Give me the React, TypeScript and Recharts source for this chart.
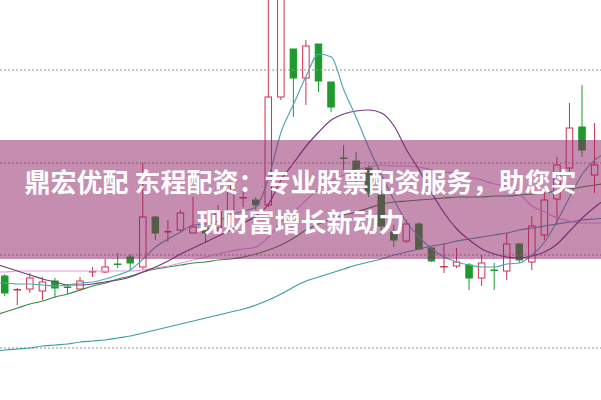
import React from 'react';
import { ComposedChart, Bar, Line, XAxis, YAxis, ReferenceLine } from 'recharts';

// Candles (price units, higher = higher on screen)
const opens = [124,110,111,109,119,113,111,128,128,136,143,133,183,168,170,167,172,172,188,202,200,195,303,351,322,356,318,242,239,232,205,168,159,176,152,133,134,135,122,130,129,156,138,165,201,232,273,225];
const closes = [107,110.5,122,118,112,112.5,119,128.5,133,135.5,137,183,167,168.5,187,173,167,188,210,202.5,195,303,420,322,354,319,293,241.5,230,207,174,160,176,151,139,133.5,138,122,137,129.5,156,140,174,200,235,272,250,235];
const highs = [126,112,127,123,122,116,123,133,141,147,146,237,184,180,190,203,174,195,215,212,203,415,425,351,360,356,318,255,248,235,210,175,180,178,153,157,152,137,145,137,167,157,184,208,243,297,315,277];
const lows = [104,95,107,100,102,106,109,123,127,132,130,130,160,158,167,167,158,168,185,193,190,193,300,283,295,308,288,230,215,203,165,153,157,150,138,127,132,110,114,110,120,137,130,160,175,228,243,207];

// Moving averages, one value per slot from index -1 to 48
const ma5 = [117,117,116,116,115,114,115,117,118,121,125,130,141,153,161,168,175,176,179,185,189,193,222,268,296,324,346,343,310,282,252,225,200,178,163,151,143,138,135,133,133,136,137,145,158,179,203,226,240,248];
const ma10 = [137,133,129,125,121,118,115,115,116,118,120,123,128,133,139,146,152,158,164,170,177,184,196,220,237,254,268,280,286,289,290,287,274,250,230,207,187,171,160,151,146,143,142,144,148,156,169,182,193,202];
const ma20 = [128,128,129,129,129,129,129,129,129,129,129,129,130,132,134,137,140,143,146,149,151,153,163,178,188,200,211,219,225,230,233,235,234,234,233,230,228,227,223,220,216,214,206,194,188,182,179,177,177,177];
const ma30 = [84,88,92,96,99,103,106,110,114,117,121,124,128,131,133,135,137,138,140,141,143,146,150,155,162,170,176,181,185,188,192,196,198,199,200,201,202,203,203,203,204,204,205,206,207,209,211,213,215,217];
const ma60 = [48,50,51,52,54,55,56,58,59,60,62,64,67,70,73,76,79,82,85,88,91,95,100,106,113,119,123,127,131,135,138,141,145,148,151,154,156,159,161,163,165,167,170,172,174,176,178,180,181,182];

const gridLevels = [330, 237, 145, 52];

const titleLine1 = '鼎宏优配 东程配资：专业股票配资服务，助您实';
const titleLine2 = '现财富增长新动力';

const RED = '#d4304c';
const GREEN = '#1e9b2c';

const data = ma5.map((_, k) => {
  const i = k - 1;
  const has = i >= 0 && i < opens.length;
  return {
    i,
    ma5: ma5[k],
    ma10: ma10[k],
    ma20: ma20[k],
    ma30: ma30[k],
    ma60: ma60[k],
    o: has ? opens[i] : null,
    c: has ? closes[i] : null,
    h: has ? highs[i] : null,
    l: has ? lows[i] : null,
    range: has ? [lows[i], highs[i]] : null,
  };
});

const Candle = (props: any) => {
  const { x, y, width, height, payload } = props;
  if (!payload || payload.o == null || height == null || isNaN(y)) return <g />;
  const top = Math.min(y, y + height);
  const bot = Math.max(y, y + height);
  const span = payload.h - payload.l;
  const py = (v: number) => top + ((payload.h - v) / span) * (bot - top);
  const cx = x + width / 2;
  const up = payload.c >= payload.o;
  const color = up ? RED : GREEN;
  const bt = py(Math.max(payload.o, payload.c));
  const bb = py(Math.min(payload.o, payload.c));
  const bw = 6.5;
  return (
    <g>
      <line x1={cx} x2={cx} y1={py(payload.h)} y2={py(payload.l)} stroke={color} strokeWidth={1} />
      <rect
        x={cx - bw / 2}
        y={bt}
        width={bw}
        height={Math.max(bb - bt, 0.5)}
        fill={up ? '#ffffff' : color}
        stroke={color}
        strokeWidth={1}
      />
    </g>
  );
};

const textStyle: React.CSSProperties = {
  position: 'absolute',
  left: 0,
  width: 601,
  textAlign: 'center',
  fontFamily: '"Noto Sans CJK SC", sans-serif',
  fontWeight: 700,
  fontSize: 26,
  lineHeight: '40px',
  color: '#ffffff',
  whiteSpace: 'nowrap',
};

export default function App() {
  return (
    <div style={{ position: 'absolute', left: 0, top: 0, width: 601, height: 400, overflow: 'hidden', background: '#ffffff' }}>
      <div style={{ position: 'absolute', left: 0, top: -30 }}>
        <ComposedChart width={601} height={430} data={data} margin={{ top: 0, right: 0, bottom: 0, left: 0 }}>
          <XAxis type="number" dataKey="i" domain={[-0.3984, 47.49]} allowDataOverflow hide />
          <YAxis type="number" domain={[0, 430]} allowDataOverflow hide />
          {gridLevels.map((g) => (
            <ReferenceLine key={g} y={g} stroke="#8f8f8f" strokeDasharray="2 2" strokeWidth={1} />
          ))}
          <Bar dataKey="range" barSize={8} isAnimationActive={false} shape={(p: any) => <Candle {...p} />} />
          <Line type="monotone" dataKey="ma60" stroke="#3d9ca4" strokeWidth={1.2} dot={false} activeDot={false} isAnimationActive={false} />
          <Line type="monotone" dataKey="ma30" stroke="#3b8a45" strokeWidth={1.2} dot={false} activeDot={false} isAnimationActive={false} />
          <Line type="monotone" dataKey="ma20" stroke="#e39ae3" strokeWidth={1.2} dot={false} activeDot={false} isAnimationActive={false} />
          <Line type="monotone" dataKey="ma10" stroke="#743c80" strokeWidth={1.2} dot={false} activeDot={false} isAnimationActive={false} />
          <Line type="monotone" dataKey="ma5" stroke="#55a7b4" strokeWidth={1.2} dot={false} activeDot={false} isAnimationActive={false} />
        </ComposedChart>
      </div>
      <div style={{ position: 'absolute', left: 0, top: 140, width: 601, height: 119, background: 'rgba(140,30,100,0.5)' }} />
      <div style={{ ...textStyle, top: 161 }}>{titleLine1}</div>
      <div style={{ ...textStyle, top: 201 }}>{titleLine2}</div>
    </div>
  );
}
